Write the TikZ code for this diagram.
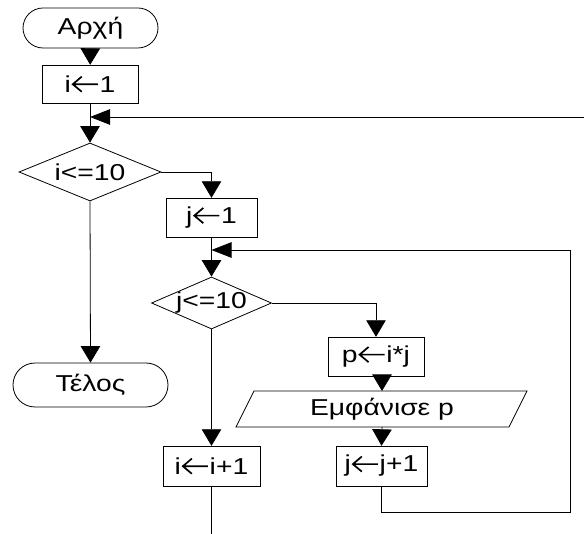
\documentclass[tikz,border=0pt]{standalone}
\usepackage{fontspec}
\setmainfont{Liberation Sans}[FakeStretch=1.23]
\usetikzlibrary{arrows.meta,shapes.geometric,shapes.misc}
% assignment arrow: open chevron with a shaft, as tall as a capital
\newcommand{\asgn}{\hspace{1pt}\tikz[baseline=0pt,x=1pt,y=1pt]
  \draw[line width=1.7pt, line join=miter, line cap=butt]
  (10,15.5) -- (1,7.8) -- (10,0.3) (1.5,7.8) -- (26,7.8);\hspace{1pt}}
\begin{document}
\begin{tikzpicture}[x=1pt,y=-1pt,
  line width=0.8pt,
  font=\fontsize{23}{27}\selectfont,
  down/.style={-{Triangle[width=19.5pt,length=16.5pt]}},
  left/.style={-{Triangle[width=15.5pt,length=20pt]}},
  proc/.style={draw, rectangle, inner sep=0pt},
  term/.style={draw, rounded rectangle, inner sep=0pt},
  dec/.style={draw, diamond, inner sep=0pt},
  txt/.style={inner sep=0pt},
]
\useasboundingbox (0,0) rectangle (584,534);

% terminals
\node[term, minimum width=135pt, minimum height=40pt] (start) at (90.5,28) {Αρχή};
\node[term, minimum width=155pt, minimum height=44pt] (end) at (90.5,385) {Τέλος};

% assignments
\node[proc, minimum width=96pt, minimum height=38pt] (b1) at (90,84) {i\asgn1};
\node[proc, minimum width=91pt, minimum height=39pt] (j1) at (211.5,217.5) {j\asgn1};
\node[proc, minimum width=96pt, minimum height=39pt] (p) at (376,356.5) {p\asgn i*j};
\node[proc, minimum width=91pt, minimum height=40pt] (jj) at (381.5,466) {j\asgn j+1};
\node[proc, minimum width=97pt, minimum height=40pt] (ii) at (211.5,466) {i\asgn i+1};

% decisions
\node[dec, minimum width=142pt, minimum height=58pt] (d1) at (90,172) {};
\node[txt] at (d1) {i<=10};
\node[dec, minimum width=120pt, minimum height=52pt] (d2) at (211.5,303) {};
\node[txt] at (d2) {j<=10};

% output
\coordinate (io) at (382,409);
\coordinate (iotop) at (382,391);
\coordinate (iobot) at (382,427);
\draw (254,391) -- (527,391) -- (509,427) -- (236,427) -- cycle;
\node[txt] at (io) {Εμφάνισε p};

% junctions and loose ends
\coordinate (mi) at (90,117);
\coordinate (ein) at (584,117);
\coordinate (mj) at (211.5,250);
\coordinate (jr1) at (570,512);
\coordinate (jr2) at (570,250);
\coordinate (iout) at (211.5,534);

% outer loop
\draw[down] (start) -- (b1);
\draw (b1) -- (mi);
\draw[down] (mi) -- (d1.north);
\draw[left] (ein) -- (mi);
\draw[down] (d1.east) -| (j1.north);
\draw[down] (d1.south) -- (end.north);

% inner loop
\draw (j1) -- (mj);
\draw[down] (mj) -- (d2.north);
\draw[down] (d2.east) -| (p.north);
\draw[down] (d2.south) -- (ii.north);
\draw[down] (p.south -| iotop) -- (iotop);
\draw[down] (iobot) -- (jj.north);
\draw[left] (jj.south) |- (jr1) -- (jr2) -- (mj);
\draw (ii.south) -- (iout);
\end{tikzpicture}
\end{document}
